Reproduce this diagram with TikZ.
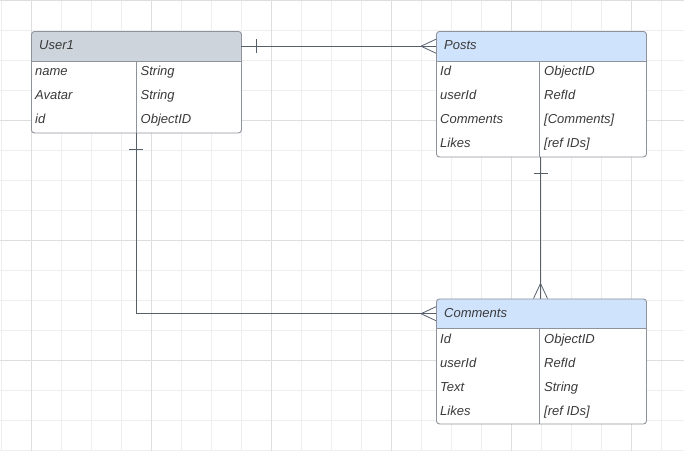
\documentclass[tikz,border=0pt]{standalone}
\usepackage{fontspec}
\setmainfont{Liberation Sans}
\definecolor{gridminor}{HTML}{EEEEEE}
\definecolor{gridmajor}{HTML}{DEDEDE}
\definecolor{edge}{HTML}{8E939B}
\definecolor{ink}{HTML}{3A3A3A}
\definecolor{wire}{HTML}{56606B}
\definecolor{grayhead}{HTML}{CED4DC}
\definecolor{bluehead}{HTML}{D0E3FC}
\begin{document}
\begin{tikzpicture}[x=1pt,y=-1pt,
  tablebox/.style={draw=edge, fill=white, rounded corners=3pt, line width=0.9pt,
    inner sep=0pt, anchor=north west,
    path picture={\fill[#1] (path picture bounding box.north west)
      rectangle ([yshift=-30pt]path picture bounding box.north east);}},
  headtxt/.style={anchor=north west, minimum height=30pt, text width=194pt,
    inner xsep=8pt, inner ysep=0pt, align=left, text height=9.3pt, text depth=2pt,
    font=\fontsize{13}{15}\selectfont\itshape, text=ink},
  rowtxt/.style={anchor=west, inner sep=0pt, text height=9.3pt, text depth=0pt,
    font=\fontsize{13}{15}\selectfont\itshape, text=ink},
  sep/.style={draw=edge, line width=0.9pt},
  wireline/.style={draw=wire, line width=0.8pt},
]
\useasboundingbox (0,0) rectangle (684,451);

% background grid
\foreach \gx in {1.5,31.5,...,661.5} \draw[gridminor, line width=0.8pt] (\gx,0) -- (\gx,451);
\foreach \gy in {0,30,...,450} \draw[gridminor, line width=0.8pt] (0,\gy) -- (684,\gy);
\foreach \gx in {31.5,151.5,...,631.5} \draw[gridmajor, line width=0.8pt] (\gx,0) -- (\gx,451);
\foreach \gy in {0,120,...,360} \draw[gridmajor, line width=0.8pt] (0,\gy) -- (684,\gy);

% ---------- User1 ----------
\node[tablebox=grayhead, minimum width=210pt, minimum height=101.5pt] (user) at (31,31) {};
\node[headtxt] (userh) at (user.north west) {User1};
\coordinate (udiv) at (136,61);
\draw[sep] (userh.south west) -- (userh.south east);
\draw[sep] (udiv) -- (udiv |- user.south);
\node[rowtxt] (u1k) at (35,71) {name};
\node[rowtxt] (u1v) at (140.5,71) {String};
\node[rowtxt] (u2k) at (35,95) {Avatar};
\node[rowtxt] (u2v) at (140.5,95) {String};
\node[rowtxt] (u3k) at (35,119) {id};
\node[rowtxt] (u3v) at (140.5,119) {ObjectID};

% ---------- Posts ----------
\node[tablebox=bluehead, minimum width=210pt, minimum height=125.5pt] (posts) at (436,31) {};
\node[headtxt] (postsh) at (posts.north west) {Posts};
\coordinate (pdiv) at (539.5,61);
\draw[sep] (postsh.south west) -- (postsh.south east);
\draw[sep] (pdiv) -- (pdiv |- posts.south);
\node[rowtxt] (p1k) at (440,71) {Id};
\node[rowtxt] (p1v) at (544,71) {ObjectID};
\node[rowtxt] (p2k) at (440,95) {userId};
\node[rowtxt] (p2v) at (544,95) {RefId};
\node[rowtxt] (p3k) at (440,119) {Comments};
\node[rowtxt] (p3v) at (544,119) {[Comments]};
\node[rowtxt] (p4k) at (440,143) {Likes};
\node[rowtxt] (p4v) at (544,143) {[ref IDs]};

% ---------- Comments ----------
\node[tablebox=bluehead, minimum width=210pt, minimum height=125pt] (comm) at (436,298.5) {};
\node[headtxt] (commh) at (comm.north west) {Comments};
\coordinate (cdiv) at (539.5,328.5);
\draw[sep] (commh.south west) -- (commh.south east);
\draw[sep] (cdiv) -- (cdiv |- comm.south);
\node[rowtxt] (c1k) at (440,338.5) {Id};
\node[rowtxt] (c1v) at (544,338.5) {ObjectID};
\node[rowtxt] (c2k) at (440,362.5) {userId};
\node[rowtxt] (c2v) at (544,362.5) {RefId};
\node[rowtxt] (c3k) at (440,386.5) {Text};
\node[rowtxt] (c3v) at (544,386.5) {String};
\node[rowtxt] (c4k) at (440,410.5) {Likes};
\node[rowtxt] (c4v) at (544,410.5) {[ref IDs]};

% ---------- relations ----------
\coordinate (pcol) at (540.5,0);
\coordinate (uout) at (udiv |- user.south);
\coordinate (pout) at (pcol |- posts.south);
\coordinate (cin) at (pcol |- comm.north);

% User1 -> Posts
\draw[wireline] (userh.east) -- (postsh.west);
\draw[wireline] ([xshift=15pt]userh.east) ++(0,-7) -- ++(0,14);
\draw[wireline] ([yshift=7pt]postsh.west) -- ([xshift=-15pt]postsh.west) -- ([yshift=-7pt]postsh.west);

% User1 -> Comments
\draw[wireline] (uout) |- (commh.west);
\draw[wireline] ([yshift=-16pt]uout) ++(-7,0) -- ++(14,0);
\draw[wireline] ([yshift=7pt]commh.west) -- ([xshift=-15pt]commh.west) -- ([yshift=-7pt]commh.west);

% Posts -> Comments
\draw[wireline] (pout) -- (cin);
\draw[wireline] ([yshift=-16pt]pout) ++(-7,0) -- ++(14,0);
\draw[wireline] ([xshift=-7pt]cin) -- ([yshift=15pt]cin) -- ([xshift=7pt]cin);
\end{tikzpicture}
\end{document}
